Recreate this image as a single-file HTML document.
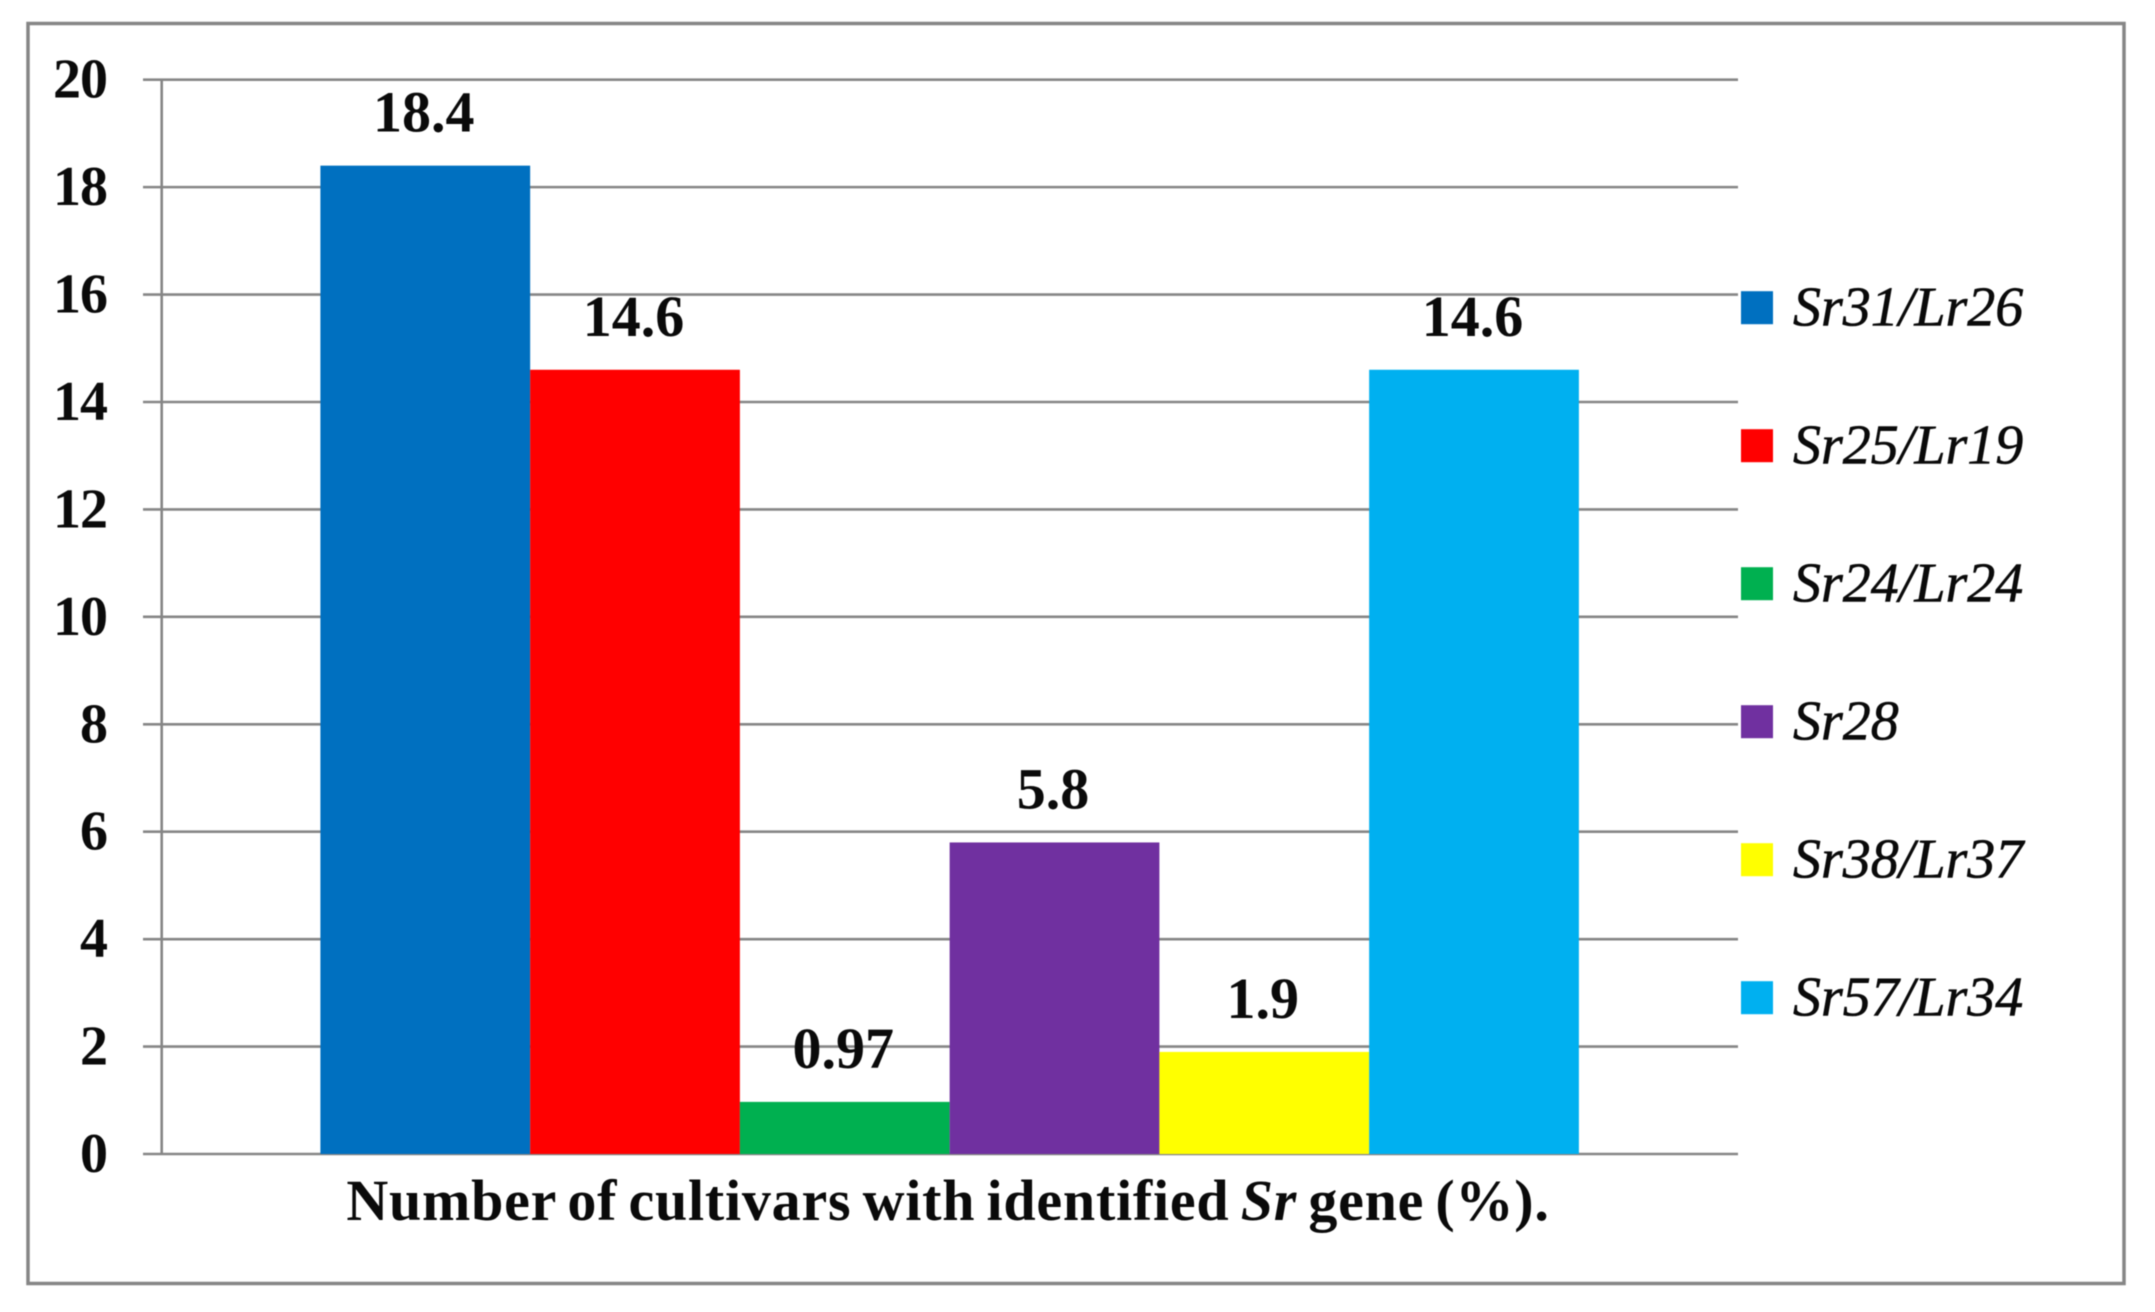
<!DOCTYPE html>
<html lang="en">
<head>
<meta charset="utf-8">
<title>Number of cultivars with identified Sr gene</title>
<style>
html,body{margin:0;padding:0;background:#fff;width:2155px;height:1312px;overflow:hidden}
svg{display:block;filter:blur(0.5px)}
text{font-family:"Liberation Serif",serif;fill:#0a0a0a}
</style>
</head>
<body>
<svg id="chart" width="2155" height="1312" viewBox="0 0 2155 1312" xmlns="http://www.w3.org/2000/svg">
  <rect x="28" y="23.5" width="2096" height="1260" fill="#fff" stroke="#868686" stroke-width="3.5"/>
  <text x="948" y="1220" text-anchor="middle" font-size="58" font-weight="bold" letter-spacing="0.77" word-spacing="-4" id="axis-title">Number of cultivars with identified <tspan font-style="italic">Sr</tspan> gene (%).</text>
</svg>
<script>
const geneNames = ['Sr31/Lr26', 'Sr25/Lr19', 'Sr24/Lr24', 'Sr28', 'Sr38/Lr37', 'Sr57/Lr34'];
const percentValues = [18.4, 14.6, 0.97, 5.8, 1.9, 14.6];
const printedValues = ['18.4', '14.6', '0.97', '5.8', '1.9', '14.6'];
const barColors = ['#0070C0', '#FF0000', '#00B050', '#7030A0', '#FFFF00', '#00B0F0'];
const yTicks = [0, 2, 4, 6, 8, 10, 12, 14, 16, 18, 20];

const svg = document.getElementById('chart');
const NS = 'http://www.w3.org/2000/svg';
const plot = {left: 161.7, tickLeft: 143, right: 1738, y0: 1154, y20: 79.7, barLeft: 320.4, barW: 209.75};
const yScale = v => plot.y0 + (plot.y20 - plot.y0) * v / 20;
const xScale = i => plot.barLeft + i * plot.barW;
function make(tag, attrs, text) {
  const el = document.createElementNS(NS, tag);
  for (const k in attrs) el.setAttribute(k, attrs[k]);
  if (text !== undefined) el.textContent = text;
  svg.appendChild(el);
  return el;
}

yTicks.forEach(t => {
  const grid = make('line', {x1: plot.tickLeft, x2: plot.right, y1: yScale(t), y2: yScale(t), stroke: '#868686', 'stroke-width': 2.6});
  
  
  const label = make('text', {x: 107, y: yScale(t) + 18, 'text-anchor': 'end', 'font-size': 56, 'font-weight': 'bold', 'letter-spacing': -1}, String(t));
  
  
});

const axis = make('line', {x1: plot.left, x2: plot.left, y1: yScale(20), y2: yScale(0), stroke: '#868686', 'stroke-width': 2.6});



percentValues.forEach((v, i) => {
  const bar = make('rect', {x: xScale(i), y: yScale(v), width: plot.barW, height: yScale(0) - yScale(v), fill: barColors[i]});
  
  
  const label = make('text', {x: xScale(i) + plot.barW / 2 - 1.5, y: yScale(v) - 34, 'text-anchor': 'middle', 'font-size': 58, 'font-weight': 'bold'}, printedValues[i]);
  
  
});

geneNames.forEach((name, i) => {
  const top = 291.2 + i * 138;
  const swatch = make('rect', {x: 1741, y: top, width: 32, height: 33, fill: barColors[i]});
  
  
  const label = make('text', {x: 1793, y: top + 34.3, 'font-size': 56, 'font-style': 'italic', stroke: '#0a0a0a', 'stroke-width': 0.6}, name);
  
  
});
</script>
</body>
</html>
